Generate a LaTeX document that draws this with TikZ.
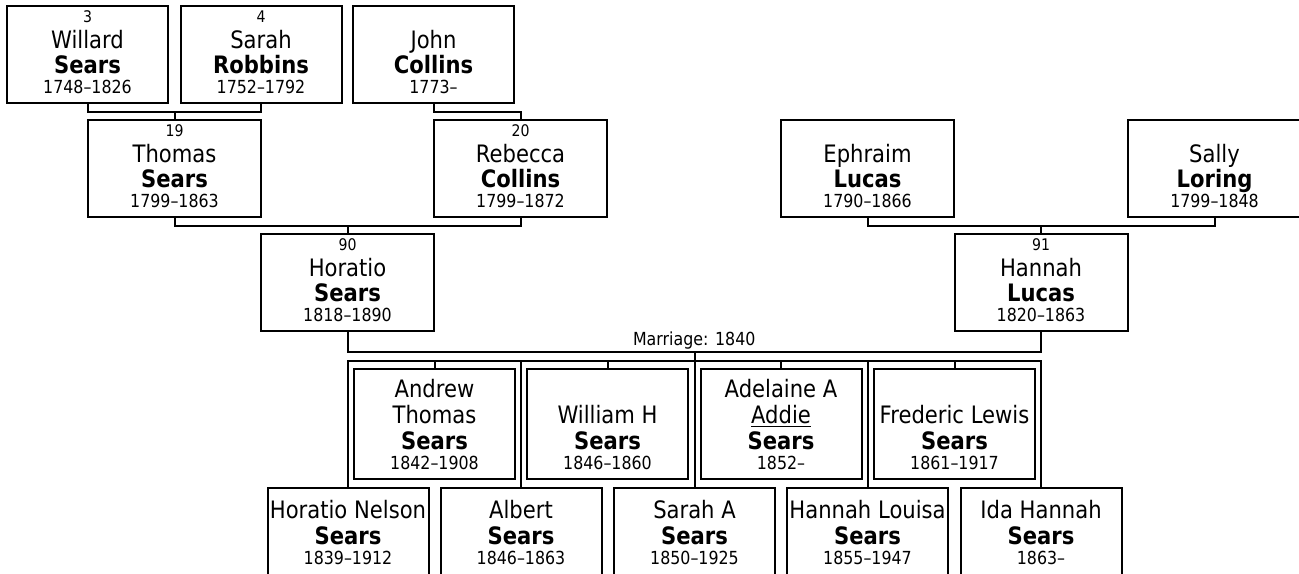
\documentclass[tikz,border=0pt]{standalone}
\usepackage{fontspec}
\setmainfont{DejaVu Sans}[FakeStretch=0.88]
\usepackage{tikz}
\usetikzlibrary{calc}
\newcommand{\namefont}{\fontsize{12}{13}\selectfont}
\newcommand{\numfont}{\fontsize{8}{10}\selectfont}
\newcommand{\yrfont}{\fontsize{9}{11}\selectfont}
\newcommand{\anc}[4]{\rule{0pt}{8pt}{\numfont #1}\\#2\\[-0.5pt]\textbf{#3}\\[-3pt]{\yrfont #4\rule[-5pt]{0pt}{5pt}}}
\newcommand{\kid}[4]{\rule{0pt}{14pt}#1\\#2\\\textbf{#3}\\[-3pt]{\yrfont #4\rule[-5pt]{0pt}{5pt}}}
\newcommand{\kidlow}[3]{\rule{0pt}{15pt}#1\\\textbf{#2}\\[-3pt]{\yrfont #3\rule[-8pt]{0pt}{8pt}}}
\tikzset{
  pbox/.style={draw, line width=1pt, fill=white, inner sep=0pt, align=center, anchor=north, minimum width=86.5pt, font=\namefont},
  sbox/.style={pbox, minimum width=80.5pt},
  link/.style={line width=1pt},
}

\begin{document}
\begin{tikzpicture}[x=0.5pt, y=-0.5pt]
\useasboundingbox (0,0) rectangle (1299,573);
\clip (0,0) rectangle (1299,573);
\node[sbox] (willard) at (87.5,5) {\anc{3}{Willard}{Sears}{1748--1826}};
\node[sbox] (sarah) at (261,5) {\anc{4}{Sarah}{Robbins}{1752--1792}};
\node[sbox] (john) at (433.5,5) {\anc{}{John}{Collins}{1773--}};
\node[pbox] (thomas) at (174.5,119) {\anc{19}{Thomas}{Sears}{1799--1863}};
\node[pbox] (rebecca) at (520.5,119) {\anc{20}{Rebecca}{Collins}{1799--1872}};
\node[pbox] (ephraim) at (867.5,119) {\anc{}{Ephraim}{Lucas}{1790--1866}};
\node[pbox] (sally) at (1214.5,119) {\anc{}{Sally}{Loring}{1799--1848}};
\node[pbox] (horatio) at (347.5,233) {\anc{90}{Horatio}{Sears}{1818--1890}};
\node[pbox] (hannah) at (1041,233) {\anc{91}{Hannah}{Lucas}{1820--1863}};
\node[sbox] (andrew) at (434.5,368) {\kid{Andrew}{Thomas}{Sears}{1842--1908}};
\node[sbox] (william) at (607.5,368) {\kid{}{William H}{Sears}{1846--1860}};
\node[sbox] (adelaine) at (781,368) {\kid{Adelaine A}{\underline{Addie}}{Sears}{1852--}};
\node[sbox] (frederic) at (954.5,368) {\kid{}{Frederic Lewis}{Sears}{1861--1917}};
\node[sbox] (horatioN) at (348,487) {\kidlow{Horatio Nelson}{Sears}{1839--1912}};
\node[sbox] (albert) at (521,487) {\kidlow{Albert}{Sears}{1846--1863}};
\node[sbox] (sarahA) at (694.5,487) {\kidlow{Sarah A}{Sears}{1850--1925}};
\node[sbox] (hannahL) at (867.5,487) {\kidlow{Hannah Louisa}{Sears}{1855--1947}};
\node[sbox] (ida) at (1041,487) {\kidlow{Ida Hannah}{Sears}{1863--}};
\draw[link] (willard.south) -- ++(0,8) -| (sarah.south);
\draw[link] (thomas.north) -- ++(0,-8);
\draw[link] (john.south) -- ++(0,8) -| (rebecca.north);
\draw[link] (thomas.south) -- ++(0,8) -| (rebecca.south);
\draw[link] (horatio.north) -- ++(0,-8);
\draw[link] (ephraim.south) -- ++(0,8) -| (sally.south);
\draw[link] (hannah.north) -- ++(0,-8);
\draw[link] (horatio.south) -- ++(0,20) coordinate (wedline) -| node[pos=0.25, above, font=\yrfont, inner sep=1pt] (wedding) {Marriage: 1840} (hannah.south);
\draw[link] (horatioN.north) -- ++(0,-126) -| (ida.north);
\draw[link] (sarahA.north) -- (sarahA.north |- wedline);
\foreach \k in {albert, hannahL} \draw[link] (\k.north) -- ++(0,-126);
\foreach \k in {andrew, william, adelaine, frederic} \draw[link] (\k.north) -- ++(0,-7);
\end{tikzpicture}
\end{document}
